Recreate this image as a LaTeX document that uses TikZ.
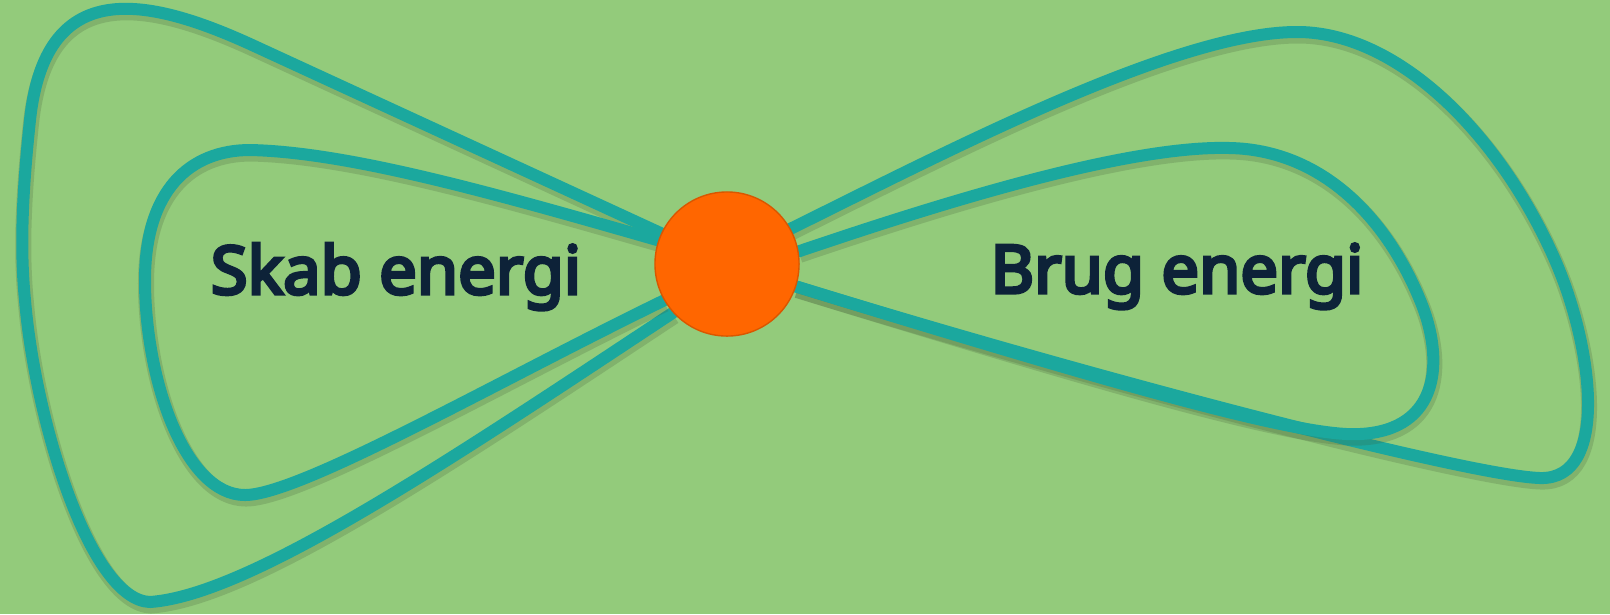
\documentclass[tikz,border=0pt]{standalone}
\usepackage{fontspec}
\setmainfont{Noto Sans}[AutoFakeBold=5]
\usepackage{tikz}
\usetikzlibrary{positioning,backgrounds}
\definecolor{fieldgreen}{HTML}{93CB7B}
\definecolor{loopteal}{HTML}{1BA89E}
\definecolor{hubcolor}{HTML}{FF6600}
\definecolor{textnavy}{HTML}{0D2238}

\begin{document}
\begin{tikzpicture}[x=0.01cm, y=-0.01cm,
    loop/.style={draw=loopteal, line width=0.12cm, line join=round, line cap=round,
        preaction={draw=fieldgreen!45!black, opacity=0.22, line width=0.16cm,
            transform canvas={shift={(0.01cm,-0.035cm)}}}},
    hub/.style={circle, fill=hubcolor, draw=hubcolor!85!black, line width=0.4pt,
        minimum size=1.44cm, inner sep=0pt},
    label/.style={font=\fontsize{19pt}{22pt}\selectfont\bfseries, text=textnavy,
        anchor=base, inner sep=0pt}
]
\useasboundingbox (0,0) rectangle (1610,614);

\node[hub] (hub) at (727,264) {};
\node[label] (skab) at (396,294) {Skab energi};
\node[label] (brug) at (1177,293) {Brug energi};

\begin{scope}[on background layer]
\fill[fieldgreen] (0,0) rectangle (1610,614);
\draw[loop] (hub.155) -- (250,44) .. controls (140,-6) and (45,-20) .. (30,120)
    .. controls (22,195) and (20,250) .. (25,300)
    .. controls (35,420) and (90,600) .. (150,602)
    .. controls (250,595) and (450,460) .. (hub.222);
\draw[loop] (hub.161) .. controls (500,195) and (350,152) .. (250,150)
    .. controls (190,150) and (145,190) .. (145,280)
    .. controls (145,380) and (185,495) .. (245,495)
    .. controls (300,495) and (500,380) .. (hub.210);
\draw[loop] (hub.29) .. controls (950,150) and (1180,30) .. (1300,32)
    .. controls (1400,34) and (1500,135) .. (1555,260)
    .. controls (1593,347) and (1610,480) .. (1540,478)
    .. controls (1470,476) and (1100,380) .. (hub.342);
\draw[loop] (hub.10) .. controls (950,200) and (1130,145) .. (1230,148)
    .. controls (1320,150) and (1385,215) .. (1420,300)
    .. controls (1445,360) and (1440,430) .. (1360,434)
    .. controls (1300,438) and (1100,380) .. (hub.342);
\end{scope}
\end{tikzpicture}
\end{document}
